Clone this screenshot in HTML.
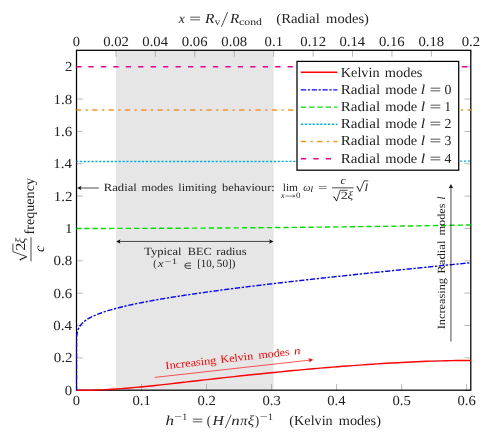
<!DOCTYPE html>
<html><head><meta charset="utf-8"><title>plot</title>
<style>
html,body{margin:0;padding:0;background:#fff;}
svg{display:block;}
text{font-family:"Liberation Serif",serif;fill:#222;text-rendering:geometricPrecision;}
.i{font-style:italic;}
</style></head><body>
<svg width="492" height="441" viewBox="0 0 492 441">
<g style="mix-blend-mode:multiply">
<rect x="0" y="0" width="492" height="441" fill="#fff"/>
<rect x="115.93" y="50.3" width="157.72" height="339.90" fill="#e6e6e6"/>
<path d="M76.50 50.3v6.3M115.93 50.3v6.3M155.36 50.3v6.3M194.79 50.3v6.3M234.22 50.3v6.3M273.65 50.3v6.3M313.08 50.3v6.3M352.51 50.3v6.3M391.94 50.3v6.3M431.37 50.3v6.3M470.80 50.3v6.3M76.50 390.2v-6.3M141.53 390.2v-6.3M206.56 390.2v-6.3M271.59 390.2v-6.3M336.62 390.2v-6.3M401.65 390.2v-6.3M466.68 390.2v-6.3M76.5 390.20h6.3M470.8 390.20h-6.3M76.5 357.85h6.3M470.8 357.85h-6.3M76.5 325.50h6.3M470.8 325.50h-6.3M76.5 293.15h6.3M470.8 293.15h-6.3M76.5 260.80h6.3M470.8 260.80h-6.3M76.5 228.45h6.3M470.8 228.45h-6.3M76.5 196.10h6.3M470.8 196.10h-6.3M76.5 163.75h6.3M470.8 163.75h-6.3M76.5 131.40h6.3M470.8 131.40h-6.3M76.5 99.05h6.3M470.8 99.05h-6.3M76.5 66.70h6.3M470.8 66.70h-6.3" stroke="#888" stroke-width="0.6" fill="none"/>
<rect x="76.5" y="50.3" width="394.30" height="339.90" fill="none" stroke="#000" stroke-width="1.25"/>
<clipPath id="c"><rect x="75.7" y="49.5" width="395.90" height="341.50"/></clipPath>
<g clip-path="url(#c)" fill="none">
<path d="M76.50 390.20C78.14 390.20 83.07 390.24 86.36 390.21C89.64 390.18 92.93 390.11 96.21 390.01C99.50 389.92 102.79 389.80 106.07 389.64C109.36 389.47 112.64 389.26 115.93 389.03C119.21 388.80 122.50 388.54 125.78 388.27C129.07 387.99 132.36 387.70 135.64 387.40C138.93 387.09 142.21 386.77 145.50 386.45C148.78 386.12 152.07 385.78 155.36 385.43C158.64 385.09 161.93 384.73 165.21 384.37C168.50 384.01 171.78 383.65 175.07 383.28C178.35 382.91 181.64 382.53 184.93 382.16C188.21 381.79 191.50 381.41 194.78 381.03C198.07 380.66 201.35 380.28 204.64 379.90C207.93 379.53 211.21 379.15 214.50 378.78C217.78 378.41 221.07 378.04 224.35 377.67C227.64 377.30 230.93 376.94 234.21 376.58C237.50 376.22 240.78 375.86 244.07 375.50C247.35 375.15 250.64 374.80 253.92 374.46C257.21 374.12 260.50 373.78 263.78 373.44C267.07 373.11 270.35 372.78 273.64 372.45C276.92 372.13 280.21 371.81 283.50 371.50C286.78 371.18 290.07 370.86 293.35 370.55C296.64 370.25 299.92 369.94 303.21 369.64C306.49 369.34 309.78 369.05 313.07 368.76C316.35 368.47 319.64 368.19 322.92 367.92C326.21 367.64 329.49 367.37 332.78 367.10C336.07 366.84 339.35 366.58 342.64 366.32C345.92 366.07 349.21 365.82 352.49 365.58C355.78 365.33 359.07 365.10 362.35 364.87C365.64 364.64 368.92 364.41 372.21 364.20C375.49 363.98 378.78 363.77 382.06 363.56C385.35 363.36 388.64 363.16 391.92 362.97C395.21 362.78 398.49 362.60 401.78 362.43C405.06 362.25 408.35 362.09 411.64 361.93C414.92 361.78 418.21 361.63 421.49 361.50C424.78 361.36 428.06 361.24 431.35 361.13C434.63 361.01 437.92 360.91 441.21 360.83C444.49 360.74 447.78 360.67 451.06 360.61C454.35 360.55 457.63 360.51 460.92 360.49C464.21 360.47 469.13 360.48 470.78 360.47" stroke="#ff0000" stroke-width="1.4"/>
<path d="M76.50 390.20L76.50 359.43L76.50 359.30L76.50 359.18L76.50 359.05L76.50 358.92L76.50 358.79L76.50 358.65L76.50 358.52L76.50 358.38L76.50 358.25L76.50 358.11L76.50 357.96L76.50 357.82L76.50 357.67L76.50 357.53L76.50 357.38L76.50 357.22L76.50 357.07L76.50 356.91L76.50 356.76L76.50 356.60L76.50 356.43L76.50 356.27L76.50 356.10L76.50 355.93L76.50 355.76L76.50 355.58L76.50 355.40L76.50 355.22L76.50 355.04L76.50 354.85L76.50 354.66L76.50 354.47L76.50 354.27L76.50 354.07L76.50 353.87L76.50 353.66L76.50 353.45L76.50 353.24L76.50 353.02L76.50 352.80L76.50 352.58L76.50 352.35L76.50 352.11L76.50 351.88L76.50 351.63L76.50 351.39L76.50 351.13L76.50 350.88L76.50 350.62L76.50 350.35L76.50 350.08L76.50 349.80L76.50 349.51L76.50 349.22L76.50 348.93L76.50 348.62L76.50 348.31L76.50 348.00L76.50 347.67L76.50 347.34L76.50 347.00L76.50 346.65L76.50 346.30L76.50 345.93L76.50 345.56L76.50 345.17L76.51 344.78L76.51 344.37L76.51 343.96L76.51 343.53L76.51 343.09L76.52 342.64L76.52 342.17L76.53 341.69L76.54 341.20L76.55 340.69L76.56 340.16L76.57 339.62L76.59 339.06L76.61 338.48L76.64 337.88L76.67 337.25L76.72 336.61L76.77 335.94L76.84 335.25L76.93 334.53L77.03 333.77L77.17 332.99L77.33 332.18L77.54 331.33L77.80 330.44L78.12 329.50L78.47 328.66L79.45 326.78L80.43 325.33L81.41 324.14L82.39 323.11L83.38 322.20L84.36 321.39L85.34 320.64L86.32 319.96L87.30 319.32L88.28 318.72L89.26 318.15L90.24 317.62L91.22 317.11L92.20 316.62L93.18 316.16L94.16 315.71L95.15 315.28L96.13 314.86L97.11 314.46L98.09 314.07L99.07 313.69L100.05 313.33L101.03 312.97L102.01 312.62L102.99 312.29L103.97 311.95L104.95 311.63L105.93 311.32L106.92 311.01L107.90 310.70L108.88 310.41L109.86 310.11L110.84 309.83L111.82 309.55L112.80 309.27L113.78 309.00L114.76 308.73L115.74 308.47L116.72 308.21L117.70 307.96L118.69 307.71L119.67 307.46L120.65 307.21L121.63 306.97L122.61 306.73L123.59 306.50L124.57 306.27L125.55 306.04L126.53 305.81L127.51 305.59L128.49 305.37L129.47 305.15L130.46 304.93L131.44 304.72L132.42 304.51L133.40 304.30L134.38 304.09L135.36 303.88L136.34 303.68L137.32 303.48L138.30 303.28L139.28 303.08L140.26 302.88L141.24 302.69L142.22 302.49L143.21 302.30L144.19 302.11L145.17 301.92L146.15 301.74L147.13 301.55L148.11 301.37L149.09 301.18L150.07 301.00L151.05 300.82L152.03 300.64L153.01 300.46L153.99 300.29L154.98 300.11L155.96 299.94L156.94 299.77L157.92 299.59L158.90 299.42L159.88 299.25L160.86 299.09L161.84 298.92L162.82 298.75L163.80 298.59L164.78 298.42L165.76 298.26L166.75 298.09L167.73 297.93L168.71 297.77L169.69 297.61L170.67 297.45L171.65 297.29L172.63 297.14L173.61 296.98L174.59 296.82L175.57 296.67L176.55 296.51L177.53 296.36L178.52 296.21L179.50 296.06L180.48 295.90L181.46 295.75L182.44 295.60L183.42 295.45L184.40 295.30L185.38 295.16L186.36 295.01L187.34 294.86L188.32 294.72L189.30 294.57L190.29 294.43L191.27 294.28L192.25 294.14L193.23 293.99L194.21 293.85L195.19 293.71L196.17 293.57L197.15 293.43L198.13 293.29L199.11 293.15L200.09 293.01L201.07 292.87L202.05 292.73L203.04 292.59L204.02 292.45L205.00 292.32L205.98 292.18L206.96 292.04L207.94 291.91L208.92 291.77L209.90 291.64L210.88 291.50L211.86 291.37L212.84 291.24L213.82 291.10L214.81 290.97L215.79 290.84L216.77 290.71L217.75 290.57L218.73 290.44L219.71 290.31L220.69 290.18L221.67 290.05L222.65 289.92L223.63 289.79L224.61 289.67L225.59 289.54L226.58 289.41L227.56 289.28L228.54 289.15L229.52 289.03L230.50 288.90L231.48 288.77L232.46 288.65L233.44 288.52L234.42 288.40L235.40 288.27L236.38 288.15L237.36 288.02L238.35 287.90L239.33 287.77L240.31 287.65L241.29 287.53L242.27 287.40L243.25 287.28L244.23 287.16L245.21 287.04L246.19 286.92L247.17 286.79L248.15 286.67L249.13 286.55L250.12 286.43L251.10 286.31L252.08 286.19L253.06 286.07L254.04 285.95L255.02 285.83L256.00 285.71L256.98 285.59L257.96 285.47L258.94 285.36L259.92 285.24L260.90 285.12L261.89 285.00L262.87 284.88L263.85 284.77L264.83 284.65L265.81 284.53L266.79 284.42L267.77 284.30L268.75 284.18L269.73 284.07L270.71 283.95L271.69 283.84L272.67 283.72L273.65 283.60L274.64 283.49L275.62 283.37L276.60 283.26L277.58 283.15L278.56 283.03L279.54 282.92L280.52 282.80L281.50 282.69L282.48 282.58L283.46 282.46L284.44 282.35L285.42 282.24L286.41 282.12L287.39 282.01L288.37 281.90L289.35 281.79L290.33 281.67L291.31 281.56L292.29 281.45L293.27 281.34L294.25 281.23L295.23 281.12L296.21 281.00L297.19 280.89L298.18 280.78L299.16 280.67L300.14 280.56L301.12 280.45L302.10 280.34L303.08 280.23L304.06 280.12L305.04 280.01L306.02 279.90L307.00 279.79L307.98 279.68L308.96 279.57L309.95 279.46L310.93 279.36L311.91 279.25L312.89 279.14L313.87 279.03L314.85 278.92L315.83 278.81L316.81 278.70L317.79 278.60L318.77 278.49L319.75 278.38L320.73 278.27L321.72 278.17L322.70 278.06L323.68 277.95L324.66 277.84L325.64 277.74L326.62 277.63L327.60 277.52L328.58 277.42L329.56 277.31L330.54 277.20L331.52 277.10L332.50 276.99L333.49 276.88L334.47 276.78L335.45 276.67L336.43 276.57L337.41 276.46L338.39 276.35L339.37 276.25L340.35 276.14L341.33 276.04L342.31 275.93L343.29 275.83L344.27 275.72L345.25 275.62L346.24 275.51L347.22 275.41L348.20 275.30L349.18 275.20L350.16 275.09L351.14 274.99L352.12 274.89L353.10 274.78L354.08 274.68L355.06 274.57L356.04 274.47L357.02 274.37L358.01 274.26L358.99 274.16L359.97 274.05L360.95 273.95L361.93 273.85L362.91 273.74L363.89 273.64L364.87 273.54L365.85 273.43L366.83 273.33L367.81 273.23L368.79 273.12L369.78 273.02L370.76 272.92L371.74 272.82L372.72 272.71L373.70 272.61L374.68 272.51L375.66 272.41L376.64 272.30L377.62 272.20L378.60 272.10L379.58 272.00L380.56 271.89L381.55 271.79L382.53 271.69L383.51 271.59L384.49 271.49L385.47 271.39L386.45 271.28L387.43 271.18L388.41 271.08L389.39 270.98L390.37 270.88L391.35 270.78L392.33 270.67L393.32 270.57L394.30 270.47L395.28 270.37L396.26 270.27L397.24 270.17L398.22 270.07L399.20 269.97L400.18 269.87L401.16 269.76L402.14 269.66L403.12 269.56L404.10 269.46L405.08 269.36L406.07 269.26L407.05 269.16L408.03 269.06L409.01 268.96L409.99 268.86L410.97 268.76L411.95 268.66L412.93 268.56L413.91 268.46L414.89 268.36L415.87 268.26L416.85 268.16L417.84 268.06L418.82 267.96L419.80 267.86L420.78 267.76L421.76 267.66L422.74 267.56L423.72 267.46L424.70 267.36L425.68 267.26L426.66 267.16L427.64 267.06L428.62 266.96L429.61 266.86L430.59 266.76L431.57 266.66L432.55 266.56L433.53 266.46L434.51 266.36L435.49 266.26L436.47 266.16L437.45 266.06L438.43 265.96L439.41 265.86L440.39 265.77L441.38 265.67L442.36 265.57L443.34 265.47L444.32 265.37L445.30 265.27L446.28 265.17L447.26 265.07L448.24 264.97L449.22 264.87L450.20 264.77L451.18 264.68L452.16 264.58L453.15 264.48L454.13 264.38L455.11 264.28L456.09 264.18L457.07 264.08L458.05 263.98L459.03 263.88L460.01 263.79L460.99 263.69L461.97 263.59L462.95 263.49L463.93 263.39L464.92 263.29L465.90 263.19L466.88 263.10L467.86 263.00L468.84 262.90L469.82 262.80L470.80 262.70" stroke="#0000ff" stroke-width="1.4" stroke-dasharray="5.25 1.67 2.21 1.67" stroke-dashoffset="0.55" stroke-linejoin="round"/>
<path d="M76.50 228.45L86.36 228.45L96.22 228.44L106.07 228.43L115.93 228.42L125.79 228.40L135.64 228.37L145.50 228.34L155.36 228.31L165.22 228.27L175.07 228.23L184.93 228.19L194.79 228.14L204.65 228.08L214.51 228.02L224.36 227.96L234.22 227.89L244.08 227.82L253.94 227.74L263.79 227.66L273.65 227.58L283.51 227.49L293.37 227.39L303.22 227.29L313.08 227.19L322.94 227.09L332.80 226.97L342.65 226.86L352.51 226.74L362.37 226.61L372.22 226.48L382.08 226.35L391.94 226.21L401.80 226.07L411.66 225.93L421.51 225.78L431.37 225.62L441.23 225.46L451.08 225.30L460.94 225.13L470.80 224.96" stroke="#00e000" stroke-width="1.4" stroke-dasharray="5.25 3.05" stroke-dashoffset="0.55"/>
<path d="M76.50 161.45L86.36 161.45L96.22 161.45L106.07 161.45L115.93 161.45L125.79 161.45L135.64 161.45L145.50 161.45L155.36 161.45L165.22 161.45L175.07 161.45L184.93 161.45L194.79 161.45L204.65 161.45L214.51 161.45L224.36 161.44L234.22 161.44L244.08 161.44L253.94 161.44L263.79 161.43L273.65 161.43L283.51 161.42L293.37 161.42L303.22 161.41L313.08 161.40L322.94 161.40L332.80 161.39L342.65 161.38L352.51 161.36L362.37 161.35L372.22 161.34L382.08 161.32L391.94 161.30L401.80 161.28L411.66 161.26L421.51 161.24L431.37 161.21L441.23 161.19L451.08 161.16L460.94 161.12L470.80 161.09" stroke="#00aeef" stroke-width="1.4" stroke-dasharray="2.21 1.67" stroke-dashoffset="0.55"/>
<path d="M76.5 110.04H470.8" stroke="#f7941d" stroke-width="1.4" stroke-dasharray="5.25 4.43 2.21 4.43" stroke-dashoffset="0.55"/>
<path d="M76.5 66.70H470.8" stroke="#ec008c" stroke-width="1.4" stroke-dasharray="5.25 7.20" stroke-dashoffset="0.55"/>
</g>
<text x="72.87" y="45.70" font-size="13.8" textLength="7.25" lengthAdjust="spacingAndGlyphs">0</text>
<text x="103.19" y="45.70" font-size="13.8" textLength="25.73" lengthAdjust="spacingAndGlyphs">0.02</text>
<text x="142.35" y="45.70" font-size="13.8" textLength="25.70" lengthAdjust="spacingAndGlyphs">0.04</text>
<text x="181.87" y="45.70" font-size="13.8" textLength="25.71" lengthAdjust="spacingAndGlyphs">0.06</text>
<text x="221.36" y="45.70" font-size="13.8" textLength="25.72" lengthAdjust="spacingAndGlyphs">0.08</text>
<text x="264.64" y="45.70" font-size="13.8" textLength="18.34" lengthAdjust="spacingAndGlyphs">0.1</text>
<text x="300.34" y="45.70" font-size="13.8" textLength="25.73" lengthAdjust="spacingAndGlyphs">0.12</text>
<text x="339.50" y="45.70" font-size="13.8" textLength="25.70" lengthAdjust="spacingAndGlyphs">0.14</text>
<text x="379.02" y="45.70" font-size="13.8" textLength="25.71" lengthAdjust="spacingAndGlyphs">0.16</text>
<text x="418.51" y="45.70" font-size="13.8" textLength="25.72" lengthAdjust="spacingAndGlyphs">0.18</text>
<text x="461.76" y="45.70" font-size="13.8" textLength="18.33" lengthAdjust="spacingAndGlyphs">0.2</text>
<text x="72.87" y="404.70" font-size="13.8" textLength="7.25" lengthAdjust="spacingAndGlyphs">0</text>
<text x="132.52" y="404.70" font-size="13.8" textLength="18.34" lengthAdjust="spacingAndGlyphs">0.1</text>
<text x="197.52" y="404.70" font-size="13.8" textLength="18.33" lengthAdjust="spacingAndGlyphs">0.2</text>
<text x="262.44" y="404.70" font-size="13.8" textLength="18.32" lengthAdjust="spacingAndGlyphs">0.3</text>
<text x="327.31" y="404.70" font-size="13.8" textLength="18.29" lengthAdjust="spacingAndGlyphs">0.4</text>
<text x="392.50" y="404.70" font-size="13.8" textLength="18.32" lengthAdjust="spacingAndGlyphs">0.5</text>
<text x="457.47" y="404.70" font-size="13.8" textLength="18.31" lengthAdjust="spacingAndGlyphs">0.6</text>
<text x="64.89" y="394.70" font-size="13.8" textLength="7.37" lengthAdjust="spacingAndGlyphs">0</text>
<text x="53.87" y="362.35" font-size="13.8" textLength="18.65" lengthAdjust="spacingAndGlyphs">0.2</text>
<text x="53.32" y="330.00" font-size="13.8" textLength="18.61" lengthAdjust="spacingAndGlyphs">0.4</text>
<text x="53.52" y="297.65" font-size="13.8" textLength="18.62" lengthAdjust="spacingAndGlyphs">0.6</text>
<text x="53.63" y="265.30" font-size="13.8" textLength="18.63" lengthAdjust="spacingAndGlyphs">0.8</text>
<text x="65.13" y="232.95" font-size="13.8" textLength="7.47" lengthAdjust="spacingAndGlyphs">1</text>
<text x="53.81" y="200.60" font-size="13.8" textLength="18.72" lengthAdjust="spacingAndGlyphs">1.2</text>
<text x="53.27" y="168.25" font-size="13.8" textLength="18.67" lengthAdjust="spacingAndGlyphs">1.4</text>
<text x="53.46" y="135.90" font-size="13.8" textLength="18.69" lengthAdjust="spacingAndGlyphs">1.6</text>
<text x="53.57" y="103.55" font-size="13.8" textLength="18.70" lengthAdjust="spacingAndGlyphs">1.8</text>
<text x="65.12" y="71.20" font-size="13.8" textLength="7.40" lengthAdjust="spacingAndGlyphs">2</text>
<text x="178.67" y="23.30" font-size="13.8" textLength="6.03" lengthAdjust="spacingAndGlyphs" class="i">x</text>
<text x="189.26" y="23.30" font-size="13.8" textLength="11.76" lengthAdjust="spacingAndGlyphs">=</text>
<text x="204.98" y="23.30" font-size="13.8" textLength="9.47" lengthAdjust="spacingAndGlyphs" class="i">R</text>
<text x="214.80" y="25.30" font-size="9.7" textLength="5.50" lengthAdjust="spacingAndGlyphs">v</text>
<path d="M221.5 26.8L227.6 12.0" stroke="#111" stroke-width="0.75" fill="none"/>
<text x="229.98" y="23.30" font-size="13.8" textLength="9.27" lengthAdjust="spacingAndGlyphs" class="i">R</text>
<text x="239.05" y="25.30" font-size="9.7" textLength="22.89" lengthAdjust="spacingAndGlyphs">cond</text>
<text x="276.25" y="23.30" font-size="13.8" textLength="43.55" lengthAdjust="spacingAndGlyphs">(Radial</text>
<text x="326.09" y="23.30" font-size="13.8" textLength="42.85" lengthAdjust="spacingAndGlyphs">modes)</text>
<text x="165.58" y="424.70" font-size="13.8" textLength="8.52" lengthAdjust="spacingAndGlyphs" class="i">h</text>
<text x="174.22" y="419.60" font-size="9.7" textLength="7.76" lengthAdjust="spacingAndGlyphs">−</text>
<text x="182.23" y="419.60" font-size="9.7" textLength="4.97" lengthAdjust="spacingAndGlyphs">1</text>
<text x="191.68" y="424.70" font-size="13.8" textLength="11.51" lengthAdjust="spacingAndGlyphs">=</text>
<text x="206.85" y="424.70" font-size="13.8" textLength="4.15" lengthAdjust="spacingAndGlyphs">(</text>
<text x="212.57" y="424.70" font-size="13.8" textLength="11.33" lengthAdjust="spacingAndGlyphs" class="i">H</text>
<path d="M225.4 428.0L231.2 414.8" stroke="#111" stroke-width="0.75" fill="none"/>
<text x="231.39" y="424.70" font-size="13.8" textLength="8.51" lengthAdjust="spacingAndGlyphs" class="i">n</text>
<text x="240.22" y="424.70" font-size="13.8" textLength="7.15" lengthAdjust="spacingAndGlyphs" class="i">π</text>
<text x="247.78" y="424.70" font-size="13.8" textLength="6.53" lengthAdjust="spacingAndGlyphs" class="i">ξ</text>
<text x="255.10" y="424.70" font-size="13.8" textLength="4.15" lengthAdjust="spacingAndGlyphs">)</text>
<text x="259.80" y="419.60" font-size="9.7" textLength="7.88" lengthAdjust="spacingAndGlyphs">−</text>
<text x="267.93" y="419.60" font-size="9.7" textLength="4.97" lengthAdjust="spacingAndGlyphs">1</text>
<text x="289.38" y="424.70" font-size="13.8" textLength="43.34" lengthAdjust="spacingAndGlyphs">(Kelvin</text>
<text x="338.80" y="424.70" font-size="13.8" textLength="42.13" lengthAdjust="spacingAndGlyphs">modes)</text>
<rect x="297" y="61.4" width="161.70" height="108.80" fill="#fff" stroke="#000" stroke-width="1.25"/>
<path d="M300.9 72.3H337.4" stroke="#ff0000" stroke-width="1.4" fill="none"/>
<path d="M300.9 89.85H337.4" stroke="#0000ff" stroke-width="1.4" fill="none" stroke-dasharray="5.25 1.67 2.21 1.67"/>
<path d="M300.9 107.1H337.4" stroke="#00e000" stroke-width="1.4" fill="none" stroke-dasharray="5.25 3.05"/>
<path d="M300.9 124.3H337.4" stroke="#00aeef" stroke-width="1.4" fill="none" stroke-dasharray="2.21 1.67"/>
<path d="M300.9 141.5H337.4" stroke="#f7941d" stroke-width="1.4" fill="none" stroke-dasharray="5.25 4.43 2.21 4.43"/>
<path d="M300.9 158.8H337.4" stroke="#ec008c" stroke-width="1.4" fill="none" stroke-dasharray="5.25 7.20"/>
<text x="340.79" y="76.60" font-size="13.8" textLength="38.83" lengthAdjust="spacingAndGlyphs">Kelvin</text>
<text x="384.80" y="76.60" font-size="13.8" textLength="37.62" lengthAdjust="spacingAndGlyphs">modes</text>
<text x="340.77" y="93.80" font-size="13.8" textLength="39.34" lengthAdjust="spacingAndGlyphs">Radial</text>
<text x="385.20" y="93.80" font-size="13.8" textLength="32.10" lengthAdjust="spacingAndGlyphs">mode</text>
<text x="420.76" y="93.80" font-size="13.8" textLength="4.39" lengthAdjust="spacingAndGlyphs" class="i">l</text>
<text x="429.56" y="93.80" font-size="13.8" textLength="11.76" lengthAdjust="spacingAndGlyphs">=</text>
<text x="444.45" y="93.80" font-size="13.8" textLength="6.90" lengthAdjust="spacingAndGlyphs">0</text>
<text x="340.77" y="111.00" font-size="13.8" textLength="39.34" lengthAdjust="spacingAndGlyphs">Radial</text>
<text x="385.20" y="111.00" font-size="13.8" textLength="32.10" lengthAdjust="spacingAndGlyphs">mode</text>
<text x="420.76" y="111.00" font-size="13.8" textLength="4.39" lengthAdjust="spacingAndGlyphs" class="i">l</text>
<text x="429.56" y="111.00" font-size="13.8" textLength="11.76" lengthAdjust="spacingAndGlyphs">=</text>
<text x="444.26" y="111.00" font-size="13.8" textLength="6.90" lengthAdjust="spacingAndGlyphs">1</text>
<text x="340.77" y="128.20" font-size="13.8" textLength="39.34" lengthAdjust="spacingAndGlyphs">Radial</text>
<text x="385.20" y="128.20" font-size="13.8" textLength="32.10" lengthAdjust="spacingAndGlyphs">mode</text>
<text x="420.76" y="128.20" font-size="13.8" textLength="4.39" lengthAdjust="spacingAndGlyphs" class="i">l</text>
<text x="429.56" y="128.20" font-size="13.8" textLength="11.76" lengthAdjust="spacingAndGlyphs">=</text>
<text x="444.53" y="128.20" font-size="13.8" textLength="6.90" lengthAdjust="spacingAndGlyphs">2</text>
<text x="340.77" y="145.40" font-size="13.8" textLength="39.34" lengthAdjust="spacingAndGlyphs">Radial</text>
<text x="385.20" y="145.40" font-size="13.8" textLength="32.10" lengthAdjust="spacingAndGlyphs">mode</text>
<text x="420.76" y="145.40" font-size="13.8" textLength="4.39" lengthAdjust="spacingAndGlyphs" class="i">l</text>
<text x="429.56" y="145.40" font-size="13.8" textLength="11.76" lengthAdjust="spacingAndGlyphs">=</text>
<text x="444.39" y="145.40" font-size="13.8" textLength="6.90" lengthAdjust="spacingAndGlyphs">3</text>
<text x="340.77" y="162.60" font-size="13.8" textLength="39.34" lengthAdjust="spacingAndGlyphs">Radial</text>
<text x="385.20" y="162.60" font-size="13.8" textLength="32.10" lengthAdjust="spacingAndGlyphs">mode</text>
<text x="420.76" y="162.60" font-size="13.8" textLength="4.39" lengthAdjust="spacingAndGlyphs" class="i">l</text>
<text x="429.56" y="162.60" font-size="13.8" textLength="11.76" lengthAdjust="spacingAndGlyphs">=</text>
<text x="444.42" y="162.60" font-size="13.8" textLength="6.90" lengthAdjust="spacingAndGlyphs">4</text>
<path d="M98.8 188.0H79" stroke="#111" stroke-width="0.75" fill="none"/>
<path transform="translate(77.10 188.00) rotate(180.00)" d="M0 0 L-4.5 2.3 C-3.375 0.7666666666666666 -3.375 -0.7666666666666666 -4.5 -2.3Z" fill="#111"/>
<text x="103.84" y="190.50" font-size="11.0" textLength="32.92" lengthAdjust="spacingAndGlyphs">Radial</text>
<text x="141.55" y="190.50" font-size="11.0" textLength="31.59" lengthAdjust="spacingAndGlyphs">modes</text>
<text x="178.36" y="190.50" font-size="11.0" textLength="38.27" lengthAdjust="spacingAndGlyphs">limiting</text>
<text x="222.00" y="190.50" font-size="11.0" textLength="52.70" lengthAdjust="spacingAndGlyphs">behaviour:</text>
<text x="282.77" y="190.50" font-size="11.0" textLength="15.21" lengthAdjust="spacingAndGlyphs">lim</text>
<text x="281.00" y="198.40" font-size="8.3" textLength="3.56" lengthAdjust="spacingAndGlyphs" class="i">x</text>
<path d="M285.4 196.1H294.8M292.9 194.6C293.4 195.5 294.0 195.9 294.9 196.1C294.0 196.3 293.4 196.7 292.9 197.6" stroke="#111" stroke-width="0.5" fill="none"/>
<text x="296.06" y="198.40" font-size="8.3" textLength="4.48" lengthAdjust="spacingAndGlyphs">0</text>
<text x="303.36" y="190.50" font-size="11.0" textLength="7.19" lengthAdjust="spacingAndGlyphs" class="i">ω</text>
<text x="310.25" y="192.40" font-size="8.3" textLength="2.88" lengthAdjust="spacingAndGlyphs" class="i">l</text>
<text x="318.07" y="190.50" font-size="11.0" textLength="9.45" lengthAdjust="spacingAndGlyphs">=</text>
<path d="M332 187.85H353.6" stroke="#111" stroke-width="0.75" fill="none"/>
<text x="340.54" y="183.60" font-size="11.0" textLength="5.18" lengthAdjust="spacingAndGlyphs" class="i">c</text>
<path d="M333.2 197.3L334.1 196.7" stroke="#111" stroke-width="0.75" fill="none"/>
<path d="M334.1 196.7L336.6 201.0" stroke="#111" stroke-width="1.0" fill="none"/>
<path d="M336.6 201.2L340.2 190.3H347.6" stroke="#111" stroke-width="0.75" fill="none"/>
<text x="340.68" y="199.10" font-size="11.0" textLength="7.11" lengthAdjust="spacingAndGlyphs">2</text>
<text x="347.55" y="199.10" font-size="11.0" textLength="5.66" lengthAdjust="spacingAndGlyphs" class="i">ξ</text>
<path d="M356.4 187.0L357.3 186.4" stroke="#111" stroke-width="0.75" fill="none"/>
<path d="M357.3 186.4L359.7 191.4" stroke="#111" stroke-width="1.0" fill="none"/>
<path d="M359.7 191.6L364.2 180.8H368.3" stroke="#111" stroke-width="0.75" fill="none"/>
<text x="364.42" y="190.50" font-size="11.0" textLength="3.56" lengthAdjust="spacingAndGlyphs" class="i">l</text>
<path d="M118 241.45H271.6" stroke="#111" stroke-width="0.75" fill="none"/>
<path transform="translate(116.10 241.45) rotate(180.00)" d="M0 0 L-4.5 2.3 C-3.375 0.7666666666666666 -3.375 -0.7666666666666666 -4.5 -2.3Z" fill="#111"/>
<path transform="translate(273.50 241.45) rotate(0.00)" d="M0 0 L-4.5 2.3 C-3.375 0.7666666666666666 -3.375 -0.7666666666666666 -4.5 -2.3Z" fill="#111"/>
<text x="144.38" y="254.50" font-size="11.0" textLength="37.16" lengthAdjust="spacingAndGlyphs">Typical</text>
<text x="187.85" y="254.50" font-size="11.0" textLength="23.83" lengthAdjust="spacingAndGlyphs">BEC</text>
<text x="216.35" y="254.50" font-size="11.0" textLength="30.19" lengthAdjust="spacingAndGlyphs">radius</text>
<text x="153.26" y="267.00" font-size="11.0" textLength="3.37" lengthAdjust="spacingAndGlyphs">(</text>
<text x="157.86" y="267.00" font-size="11.0" textLength="5.84" lengthAdjust="spacingAndGlyphs" class="i">x</text>
<text x="164.82" y="263.60" font-size="8.3" textLength="6.54" lengthAdjust="spacingAndGlyphs">−</text>
<text x="172.13" y="263.60" font-size="8.3" textLength="4.97" lengthAdjust="spacingAndGlyphs">1</text>
<path d="M191.0 263.1h-3.5a2.65 2.65 0 0 0 0 5.3h3.5M184.9 265.75h6.1" stroke="#111" stroke-width="0.75" fill="none"/>
<text x="197.19" y="267.00" font-size="11.0" textLength="17.30" lengthAdjust="spacingAndGlyphs">[10,</text>
<text x="216.85" y="267.00" font-size="11.0" textLength="18.75" lengthAdjust="spacingAndGlyphs">50])</text>
<path d="M154.8 377.4L311.8 359.9" stroke="#ff0000" stroke-width="0.65" fill="none"/>
<path transform="translate(313.10 359.75) rotate(-6.36)" d="M0 0 L-4.5 2.3 C-3.375 0.7666666666666666 -3.375 -0.7666666666666666 -4.5 -2.3Z" fill="#ff0000"/>
<g transform="translate(166.1 369.3) rotate(-6.53)">
<text x="-0.24" y="0.00" font-size="11.0" textLength="51.08" lengthAdjust="spacingAndGlyphs" style="fill:#ff0000">Increasing</text>
<text x="54.95" y="0.00" font-size="11.0" textLength="33.03" lengthAdjust="spacingAndGlyphs" style="fill:#ff0000">Kelvin</text>
<text x="93.15" y="0.00" font-size="11.0" textLength="31.59" lengthAdjust="spacingAndGlyphs" style="fill:#ff0000">modes</text>
<text x="128.93" y="0.00" font-size="11.0" textLength="6.62" lengthAdjust="spacingAndGlyphs" class="i" style="fill:#ff0000">n</text>
</g>
<path d="M450.95 341.6V186" stroke="#111" stroke-width="0.75" fill="none"/>
<path transform="translate(450.95 184.00) rotate(-90.00)" d="M0 0 L-4.5 2.3 C-3.375 0.7666666666666666 -3.375 -0.7666666666666666 -4.5 -2.3Z" fill="#111"/>
<g transform="translate(444.7 329.0) rotate(-90)">
<text x="-0.35" y="0.00" font-size="11.0" textLength="51.38" lengthAdjust="spacingAndGlyphs">Increasing</text>
<text x="55.33" y="0.00" font-size="11.0" textLength="33.12" lengthAdjust="spacingAndGlyphs">Radial</text>
<text x="93.44" y="0.00" font-size="11.0" textLength="32.20" lengthAdjust="spacingAndGlyphs">modes</text>
<text x="129.60" y="0.00" font-size="11.0" textLength="3.06" lengthAdjust="spacingAndGlyphs" class="i">l</text>
</g>
<g transform="translate(33.6 234.4) rotate(-90)">
<text x="-0.13" y="0.00" font-size="13.8" textLength="56.49" lengthAdjust="spacingAndGlyphs">frequency</text>
<path d="M-27.0 -2.6H-2.8" stroke="#111" stroke-width="0.75" fill="none"/>
<path d="M-26.2 -12.9L-25.3 -13.8" stroke="#111" stroke-width="0.75" fill="none"/>
<path d="M-25.3 -13.8L-22.3 -7.0" stroke="#111" stroke-width="1.1" fill="none"/>
<path d="M-22.3 -6.8L-17.3 -20.7H-9.2" stroke="#111" stroke-width="0.75" fill="none"/>
<text x="-16.31" y="-8.90" font-size="13.8" textLength="8.11" lengthAdjust="spacingAndGlyphs">2</text>
<text x="-9.16" y="-8.90" font-size="13.8" textLength="5.77" lengthAdjust="spacingAndGlyphs" class="i">ξ</text>
<text x="-17.64" y="10.70" font-size="13.8" textLength="6.29" lengthAdjust="spacingAndGlyphs" class="i">c</text>
</g>
</g>
</svg>
</body></html>
